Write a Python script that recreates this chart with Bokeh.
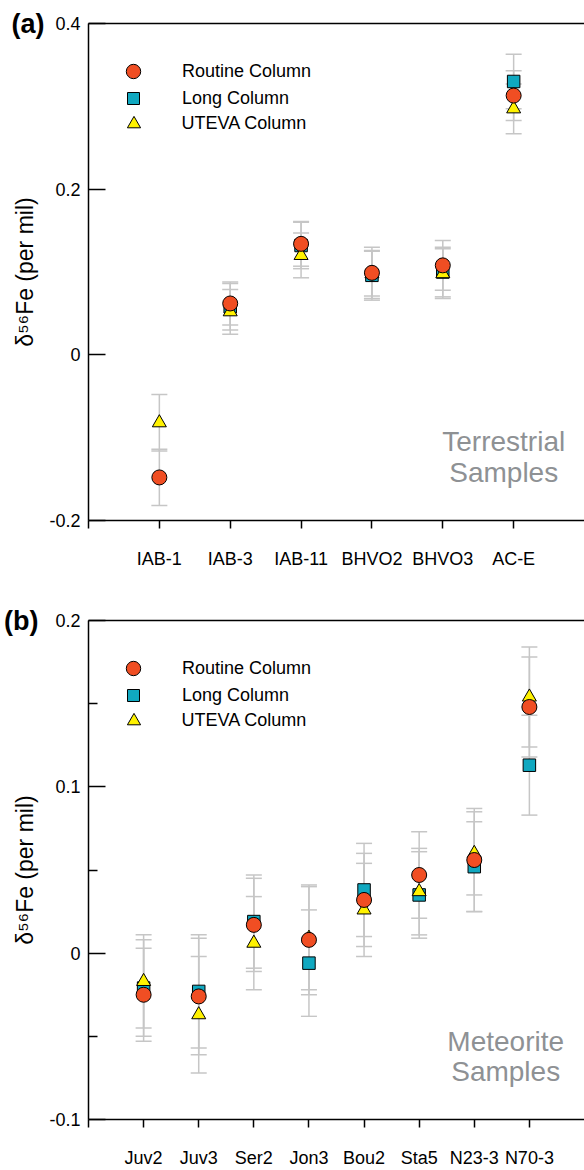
import math
from bokeh.plotting import figure
from bokeh.models import (ColumnDataSource, Whisker, TeeHead, Range1d, FixedTicker,
                          LinearAxis, Legend, LegendItem, Label)
from bokeh.layouts import column
from bokeh.embed import file_html
from bokeh.resources import INLINE

# ---------------- data: panel (a) terrestrial ----------------
terr_samples = ["IAB-1", "IAB-3", "IAB-11", "BHVO2", "BHVO3", "AC-E"]
terr_routine = [-0.148, 0.062, 0.134, 0.099, 0.108, 0.313]
terr_routine_err = [0.034, 0.026, 0.027, 0.031, 0.030, 0.030]
terr_long = [float("nan"), 0.058, 0.132, 0.096, 0.100, 0.330]
terr_long_err = [float("nan"), 0.028, 0.028, 0.030, 0.030, 0.033]
terr_uteva = [-0.082, 0.052, 0.120, 0.098, 0.098, 0.297]
terr_uteva_err = [0.034, 0.027, 0.027, 0.027, 0.030, 0.030]

# ---------------- data: panel (b) meteorites ----------------
met_samples = ["Juv2", "Juv3", "Ser2", "Jon3", "Bou2", "Sta5", "N23-3", "N70-3"]
met_routine = [-0.025, -0.026, 0.017, 0.008, 0.032, 0.047, 0.056, 0.148]
met_routine_err = [0.028, 0.035, 0.028, 0.033, 0.028, 0.026, 0.031, 0.030]
met_long = [-0.021, -0.023, 0.019, -0.006, 0.038, 0.035, 0.052, 0.113]
met_long_err = [0.029, 0.034, 0.028, 0.032, 0.028, 0.026, 0.027, 0.030]
met_uteva = [-0.017, -0.037, 0.006, 0.009, 0.026, 0.037, 0.060, 0.154]
met_uteva_err = [0.028, 0.035, 0.028, 0.031, 0.028, 0.026, 0.025, 0.030]

terr_yticks = [-0.2, 0.0, 0.2, 0.4]
met_yticks = [-0.1, 0.0, 0.1, 0.2]
met_yminor = [-0.05, 0.05, 0.15]
legend_names = ["Routine Column", "Long Column", "UTEVA Column"]

FONT = "Liberation Sans"
ORANGE = "#F04E23"
TEAL = "#10A8C0"
YELLOW = "#FFF200"
GREY = "#C6C6C6"
NOTE = "#8E9194"
YLABEL = "\u03b4\u2075\u2076Fe (per mil)"

W = 584
LEFT = 88


def fmt(v):
    return "0" if v == 0 else ("%g" % v)


def build(samples, routine, routine_err, long_, long_err, uteva, uteva_err,
          yticks, yminor, tag, tag_stand, notes, note_x, note_ys,
          height, top, bottom, x_stand):
    n = len(samples)
    xmax = (W - LEFT) / (496.0 / (n + 1))
    ylo, yhi = yticks[0], yticks[-1]
    p = figure(width=W, height=height, x_range=Range1d(0, xmax), y_range=Range1d(ylo, yhi),
               output_backend="svg", toolbar_location=None,
               min_border_left=LEFT, min_border_right=0, min_border_top=top,
               min_border_bottom=bottom)
    p.xgrid.visible = False
    p.ygrid.visible = False
    p.outline_line_color = None
    p.background_fill_color = "white"

    xs = list(range(1, n + 1))

    # x axis
    xa = p.xaxis[0]
    xa.ticker = FixedTicker(ticks=list(range(0, n + 1)))
    overrides = {0: ""}
    for i, s in enumerate(samples):
        overrides[i + 1] = s
    xa.major_label_overrides = overrides
    xa.major_tick_in = 0
    xa.major_tick_out = 8
    xa.minor_tick_line_color = None
    xa.axis_line_width = 1.5
    xa.major_tick_line_width = 1.5
    xa.major_label_standoff = x_stand
    xa.major_label_text_font = FONT
    xa.major_label_text_font_size = "18px"
    xa.major_label_text_color = "black"

    # y axis
    ya = p.yaxis[0]
    ya.ticker = FixedTicker(ticks=yticks, minor_ticks=yminor)
    ya.major_label_overrides = {t: fmt(t) for t in yticks}
    ya.major_tick_in = 17
    ya.major_tick_out = 0
    ya.minor_tick_in = 9
    ya.minor_tick_out = 0
    if not yminor:
        ya.minor_tick_line_color = None
    ya.axis_line_width = 1.5
    ya.major_tick_line_width = 1.5
    ya.minor_tick_line_width = 1.5
    ya.major_label_standoff = 8
    ya.major_label_text_font = FONT
    ya.major_label_text_font_size = "18px"
    ya.major_label_text_color = "black"
    ya.axis_label = YLABEL
    ya.axis_label_text_font = FONT
    ya.axis_label_text_font_size = "23px"
    ya.axis_label_text_font_style = "normal"
    ya.axis_label_text_color = "black"
    ya.axis_label_standoff = 8

    # panel tag "(a)"/"(b)" as the label of an outer, line-less axis tick
    tag_axis = LinearAxis(ticker=FixedTicker(ticks=[yhi]), major_label_overrides={yhi: tag},
                          axis_line_color=None, major_tick_line_color=None,
                          minor_tick_line_color=None, major_tick_in=0, major_tick_out=0,
                          minor_tick_in=0, minor_tick_out=0, major_label_standoff=tag_stand,
                          major_label_text_font=FONT, major_label_text_font_size="27px",
                          major_label_text_font_style="bold", major_label_text_color="black")
    p.add_layout(tag_axis, "left")

    # top frame line
    ta = LinearAxis(ticker=FixedTicker(ticks=[]), major_tick_in=0, major_tick_out=0,
                    minor_tick_in=0, minor_tick_out=0, major_label_standoff=0,
                    major_tick_line_color=None, minor_tick_line_color=None,
                    axis_line_width=1.5, axis_line_color="black")
    p.add_layout(ta, "above")

    series = [
        (legend_names[1], long_, long_err, "square", TEAL, 12.5),
        (legend_names[2], uteva, uteva_err, "triangle", YELLOW, 14),
        (legend_names[0], routine, routine_err, "circle", ORANGE, 15),
    ]
    # error bars first
    for name, vals, errs, mk, col, sz in series:
        ok = [i for i in range(n) if not math.isnan(vals[i])]
        src = ColumnDataSource(dict(x=[xs[i] for i in ok],
                                    upper=[vals[i] + errs[i] for i in ok],
                                    lower=[vals[i] - errs[i] for i in ok]))
        w = Whisker(source=src, base="x", upper="upper", lower="lower", dimension="height",
                    line_color=GREY, line_width=1.5, level="underlay",
                    upper_head=TeeHead(size=16, line_color=GREY, line_width=1.5),
                    lower_head=TeeHead(size=16, line_color=GREY, line_width=1.5))
        p.add_layout(w)
    rends = {}
    for name, vals, errs, mk, col, sz in series:
        ok = [i for i in range(n) if not math.isnan(vals[i])]
        src = ColumnDataSource(dict(x=[xs[i] for i in ok], y=[vals[i] for i in ok]))
        r = p.scatter(x="x", y="y", source=src, marker=mk, size=sz, fill_color=col,
                      line_color="black", line_width=1)
        rends[name] = r

    # legend: one per row so glyphs keep their size
    fh = height - top - bottom
    legend_rows = [(legend_names[0], 36, 48), (legend_names[1], 30, 75), (legend_names[2], 33, 100)]
    cx = 45
    text_x = 94
    for name, g, cy in legend_rows:
        lx = cx - g / 2.0
        leg = Legend(items=[LegendItem(label=name, renderers=[rends[name]])],
                     location=(lx, fh - cy - g / 2.0),
                     glyph_width=g, glyph_height=g, label_height=g,
                     label_standoff=int(round(text_x - lx - g)),
                     padding=0, margin=0, spacing=0,
                     border_line_color=None, background_fill_alpha=0,
                     label_text_font=FONT, label_text_font_size="18px",
                     label_text_color="black")
        p.add_layout(leg)

    # note
    for t, yy in zip(notes, note_ys):
        p.add_layout(Label(x=note_x, y=yy, text=t, text_font=FONT, text_font_size="28px",
                           text_align="center", text_baseline="alphabetic",
                           text_color=NOTE))
    return p


pa = build(terr_samples, terr_routine, terr_routine_err, terr_long, terr_long_err,
           terr_uteva, terr_uteva_err, terr_yticks, [], "(a)", -35,
           ["Terrestrial", "Samples"], 5.86, [-0.105, -0.1415],
           600, 23, 80, 20)
pb = build(met_samples, met_routine, met_routine_err, met_long, met_long_err,
           met_uteva, met_uteva_err, met_yticks, met_yminor, "(b)", -29,
           ["Meteorite", "Samples"], 7.57, [-0.0533, -0.0713],
           570, 20, 51, 20)

layout = column(pa, pb, spacing=0)
open("out.html", "w").write(file_html(layout, INLINE))
